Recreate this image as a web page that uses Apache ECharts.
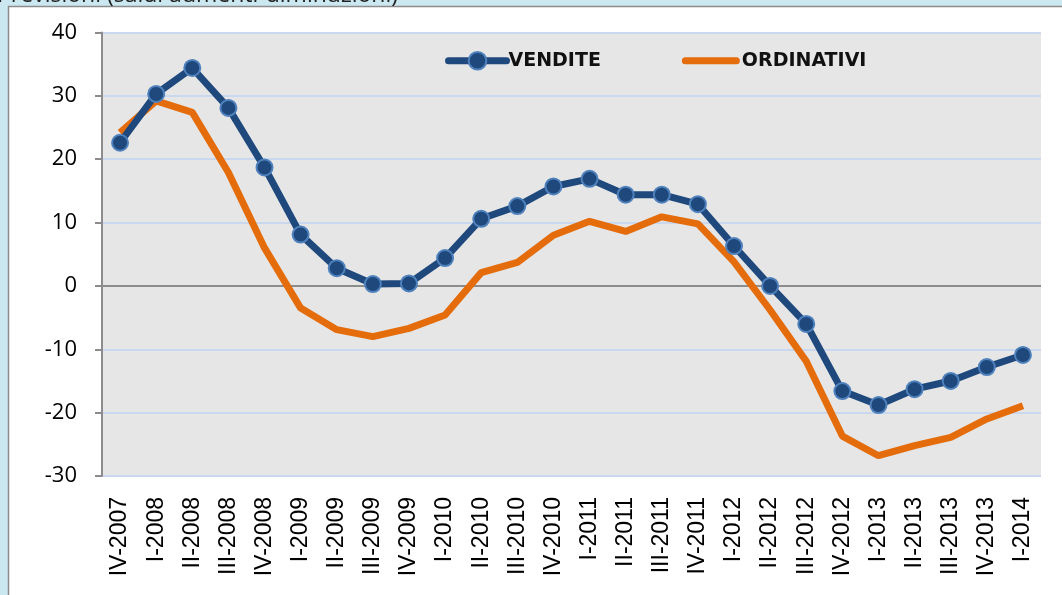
<!DOCTYPE html>
<html>
<head>
<meta charset="utf-8">
<script src="https://cdn.jsdelivr.net/npm/echarts@6/dist/echarts.min.js"></script>
<style>
html,body{margin:0;padding:0;background:#cbe7f0;}
#chart{width:1062px;height:595px;}
</style>
</head>
<body>
<div id="chart"></div>
<script>
var categories = ['IV-2007','I-2008','II-2008','III-2008','IV-2008','I-2009','II-2009','III-2009','IV-2009','I-2010','II-2010','III-2010','IV-2010','I-2011','II-2011','III-2011','IV-2011','I-2012','II-2012','III-2012','IV-2012','I-2013','II-2013','III-2013','IV-2013','I-2014'];
var vendite = [22.6,30.3,34.4,28.1,18.7,8.1,2.8,0.3,0.4,4.4,10.6,12.6,15.7,16.9,14.4,14.4,12.9,6.3,0.0,-6.0,-16.6,-18.8,-16.3,-15.0,-12.8,-10.9];
var ordinativi = [24.2,29.2,27.4,17.9,6.0,-3.5,-6.9,-8.0,-6.7,-4.6,2.1,3.7,8.0,10.2,8.6,10.9,9.8,3.8,-3.8,-11.9,-23.7,-26.8,-25.2,-23.9,-21.0,-18.9];
var seriesNames = ['VENDITE','ORDINATIVI'];
var titleText = 'Previsioni (saldi aumenti-diminuzioni)';

var chart = echarts.init(document.getElementById('chart'));
var grid = '#c9d8ee';
chart.setOption({
  backgroundColor: '#cbe7f0',
  animation: false,
  graphic: [
    {type:'rect', z:-10, shape:{x:8.5,y:6.5,width:1070,height:620}, style:{fill:'#ffffff', stroke:'#8c8c8c', lineWidth:1.5}},
    {type:'text', z:-5, x:-3, y:7, style:{text:titleText, fill:'#222', font:'23px "Open Sans", "Liberation Sans", Arial', textVerticalAlign:'bottom'}}
  ],
  grid: {left:102, right:21, top:32.5, bottom:119, show:true, backgroundColor:'#e6e6e6', borderWidth:0},
  legend: {
    top: 46, left: 440, itemWidth: 58, itemHeight: 22, itemGap: 81,
    lineStyle: {width: 7, cap: 'round'},
    textStyle: {fontSize: 19, fontWeight: 'bold', color: '#111', fontFamily: '"DejaVu Sans", "Open Sans", Arial', padding:[0,0,0,-3]},
    data: [
      {name: seriesNames[0]},
      {name: seriesNames[1], icon: 'path://M3.5,0 L54.5,0 A3.5,3.5 0 0 1 54.5,7 L3.5,7 A3.5,3.5 0 0 1 3.5,0 Z'}
    ]
  },
  xAxis: {
    type: 'category', data: categories, boundaryGap: true,
    axisLine: {show:false}, axisTick: {show:false},
    axisLabel: {rotate: 90, fontSize: 23, color:'#000', fontFamily:'"Liberation Sans", Arial', margin: 21, interval: 0}
  },
  yAxis: {
    type: 'value', min: -30, max: 40, interval: 10,
    axisLine: {show:true, lineStyle:{color:'#8c8c8c', width:2}},
    axisTick: {show:true, inside:false, length:7, lineStyle:{color:'#8c8c8c', width:2}},
    axisLabel: {fontSize: 22, color:'#000', fontFamily:'"Open Sans", "Liberation Sans", Arial', margin: 25},
    splitLine: {show:true, lineStyle:{color:[grid,grid,grid,'#8c8c8c',grid,grid,grid,grid], width:2}}
  },
  series: [
    {
      name: seriesNames[0], type: 'line', data: vendite,
      symbol: 'circle', symbolSize: 16, showSymbol: true,
      lineStyle: {color:'#1f497d', width: 7},
      itemStyle: {color:'#1f497d', borderColor:'#4f81bd', borderWidth: 2},
      z: 3
    },
    {
      name: seriesNames[1], type: 'line', data: ordinativi,
      symbol: 'none',
      lineStyle: {color:'#e46c0a', width: 7},
      itemStyle: {color:'#e46c0a'},
      z: 2
    }
  ]
});
</script>
</body>
</html>
